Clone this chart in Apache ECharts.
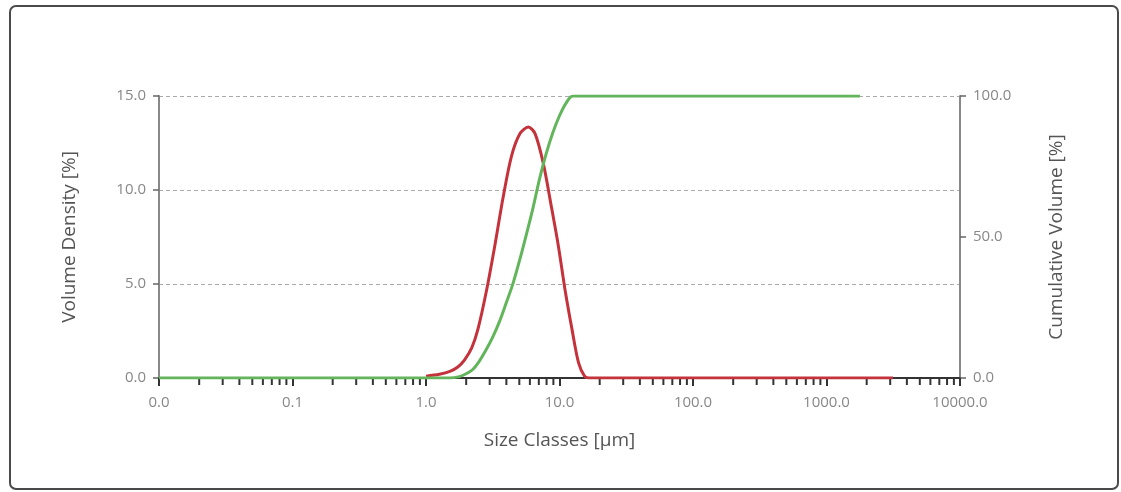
<!DOCTYPE html>
<html>
<head>
<meta charset="utf-8">
<script src="https://cdn.jsdelivr.net/npm/echarts@6/dist/echarts.min.js"></script>
<style>
html,body{margin:0;padding:0;background:#fff;}
#c{width:1121px;height:492px;}
</style>
</head>
<body>
<div id="c"></div>
<script>
// Volume density (left axis, %)
const densitySizes = [1.0, 1.26, 1.51, 1.74, 1.94, 2.2, 2.45, 2.83, 3.27, 3.78, 4.37, 5.06, 5.84, 6.56, 7.57, 8.75, 9.82, 11.0, 12.4, 13.9, 15.4, 16.8, 3150];
const densityValues = [0.1, 0.2, 0.35, 0.6, 0.95, 1.6, 2.6, 4.6, 7.0, 9.6, 11.8, 13.0, 13.35, 13.0, 11.4, 9.0, 7.0, 4.7, 2.6, 0.8, 0.1, 0, 0];
// Cumulative volume (right axis, %)
const cumulSizes = [0.01, 1.51, 1.78, 2.0, 2.24, 2.51, 2.82, 3.16, 3.55, 3.98, 4.47, 5.01, 5.62, 6.31, 7.08, 7.94, 8.91, 10.0, 11.2, 12.6, 1780];
const cumulValues = [0, 0, 0.5, 1.5, 3, 6, 10, 14.5, 20, 26.5, 33.3, 41.5, 50.5, 60, 70.5, 79.5, 87, 93, 97.5, 100, 100];
// Axis ticks
const decades = [0.01, 0.1, 1, 10, 100, 1000];
const minorMultipliers = [2, 3, 4, 5, 6, 7, 8, 9];
const minorTickValues = [];
decades.forEach(d => minorMultipliers.forEach(m => minorTickValues.push(d * m)));

const FONT = '"Open Sans", "Noto Sans", sans-serif';
const chart = echarts.init(document.getElementById('c'), null, {renderer: 'canvas'});
chart.setOption({
  backgroundColor: '#fff',
  animation: false,
  graphic: [{
    type: 'rect', z: -10,
    shape: {x: 10, y: 6, width: 1108, height: 483, r: 6},
    style: {fill: 'none', stroke: '#4a4a4a', lineWidth: 2}
  }],
  grid: {left: 159, right: 161, top: 96, bottom: 114},
  xAxis: {
    type: 'log', logBase: 10, min: 0.01, max: 10000,
    name: 'Size Classes [\u00b5m]', nameLocation: 'middle', nameGap: 53,
    nameTextStyle: {color: '#555', fontSize: 19, fontFamily: FONT},
    axisLine: {show: true, lineStyle: {color: '#333', width: 2}},
    axisTick: {show: true, length: 8, lineStyle: {color: '#333', width: 2}},
    axisLabel: {color: '#888', fontSize: 15, fontFamily: FONT, margin: 17,
      formatter: v => Number(v).toFixed(1)},
    splitLine: {show: false}
  },
  yAxis: [{
    type: 'value', min: 0, max: 15, interval: 5, position: 'left',
    name: 'Volume Density [%]', nameLocation: 'middle', nameGap: 80, nameRotate: 90,
    nameTextStyle: {color: '#555', fontSize: 19, fontFamily: FONT},
    axisLine: {show: true, lineStyle: {color: '#888', width: 2}},
    axisTick: {show: true, length: 6, lineStyle: {color: '#666', width: 1.5}},
    axisLabel: {color: '#888', fontSize: 15, fontFamily: FONT, margin: 13,
      formatter: v => v.toFixed(1)},
    splitLine: {show: true, lineStyle: {color: '#aaa', width: 1, type: [4, 3]}}
  }, {
    type: 'value', min: 0, max: 100, interval: 50, position: 'right',
    name: 'Cumulative Volume [%]', nameLocation: 'middle', nameGap: 87, nameRotate: 90,
    nameTextStyle: {color: '#555', fontSize: 19, fontFamily: FONT},
    axisLine: {show: true, lineStyle: {color: '#888', width: 2}},
    axisTick: {show: true, length: 6, lineStyle: {color: '#666', width: 1.5}},
    axisLabel: {color: '#888', fontSize: 15, fontFamily: FONT, margin: 13,
      formatter: v => v.toFixed(1)},
    splitLine: {show: false}
  }],
  series: [{
    type: 'custom', name: 'minorTicks', xAxisIndex: 0, yAxisIndex: 0,
    data: minorTickValues.map(v => [v, 0]),
    clip: false, silent: true, z: 1,
    renderItem: (params, api) => {
      const p = api.coord([api.value(0), 0]);
      return {type: 'line', shape: {x1: p[0], y1: p[1], x2: p[0], y2: p[1] + 7},
        style: {stroke: '#333', lineWidth: 2}};
    }
  }, {
    type: 'line', name: 'Volume Density', yAxisIndex: 0,
    data: densitySizes.map((s, i) => [s, densityValues[i]]),
    smooth: 0.3, showSymbol: false, z: 3,
    lineStyle: {color: '#c4333c', width: 3}
  }, {
    type: 'line', name: 'Cumulative Volume', yAxisIndex: 1,
    data: cumulSizes.map((s, i) => [s, cumulValues[i]]),
    smooth: 0.3, showSymbol: false, z: 4,
    lineStyle: {color: '#62b55a', width: 3}
  }]
});
</script>
</body>
</html>
